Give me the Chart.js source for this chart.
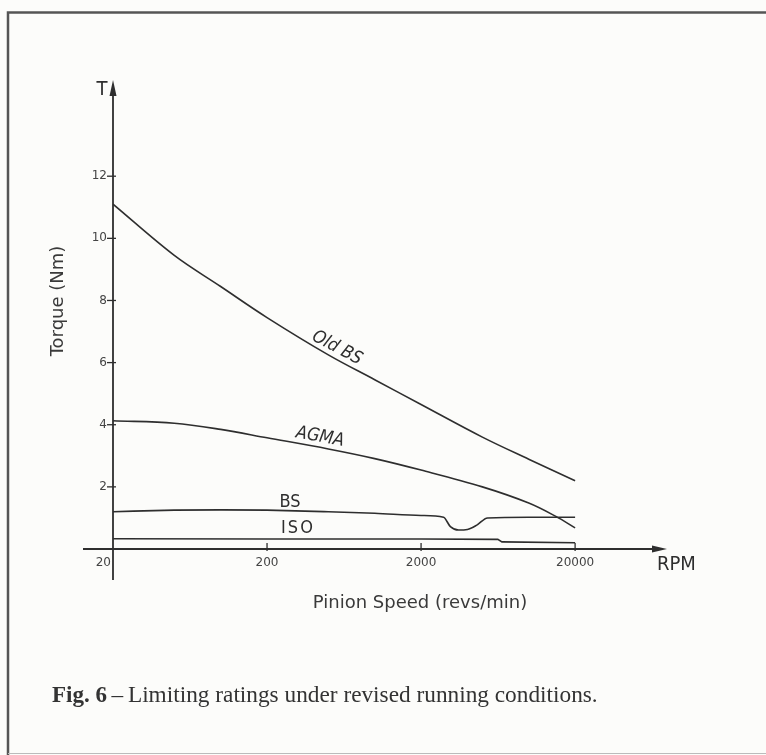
<!DOCTYPE html>
<html>
<head>
<meta charset="utf-8">
<script src="https://cdn.jsdelivr.net/npm/chart.js@4.4.1/dist/chart.umd.min.js"></script>
<style>
  html, body { margin: 0; padding: 0; background: #fcfcfa; }
  #wrap { width: 766px; height: 755px; }
</style>
</head>
<body>
<div id="wrap"><canvas id="c" width="766" height="755"></canvas></div>
<script>
// ---- data ----
const xTickValues = [20, 200, 2000, 20000];
const xTickLabels = ["20", "200", "2000", "20000"];
const yTickValues = [2, 4, 6, 8, 10, 12];
const yTickLabels = ["2", "4", "6", "8", "10", "12"];

const oldBsRpm    = [20, 50, 100, 200, 500, 1000, 2000, 5000, 10000, 20000];
const oldBsTorque = [11.1, 9.45, 8.45, 7.45, 6.25, 5.45, 4.65, 3.6, 2.89, 2.2];

const agmaRpm    = [20, 50, 100, 200, 500, 1000, 2000, 5000, 10000, 15000, 20000];
const agmaTorque = [4.13, 4.05, 3.85, 3.58, 3.22, 2.91, 2.54, 2.0, 1.48, 1.05, 0.68];

const bsRpm    = [20, 50, 100, 200, 500, 1000, 2000, 2800, 3100, 3500, 4000, 4600, 5400, 10000, 20000];
const bsTorque = [1.2, 1.25, 1.26, 1.25, 1.2, 1.15, 1.08, 1.02, 0.72, 0.61, 0.63, 0.77, 1.0, 1.02, 1.02];

const isoRpm    = [20, 200, 2000, 6300, 6700, 20000];
const isoTorque = [0.33, 0.32, 0.32, 0.31, 0.23, 0.2];

const seriesNames = ["Old BS", "AGMA", "BS", "ISO"];

const toPts = (xs, ys) => xs.map((x, i) => ({ x: x, y: ys[i] }));

const INK = '#2e2e2e';
const FONT = '"DejaVu Sans", sans-serif';
const FONTC = '"DejaVu Sans Condensed", "DejaVu Sans", sans-serif';

const decor = {
  id: 'decor',
  beforeDraw(chart) {
    const ctx = chart.ctx;
    ctx.save();
    ctx.fillStyle = '#fcfcfa';
    ctx.fillRect(0, 0, chart.width, chart.height);
    ctx.restore();
  },
  afterDraw(chart) {
    const ctx = chart.ctx;
    const xs = chart.scales.x, ys = chart.scales.y;
    const x0 = xs.getPixelForValue(20);
    const y0 = ys.getPixelForValue(0);
    const xEnd = xs.right, yTop = ys.top;
    ctx.save();

    // frame
    ctx.strokeStyle = '#555';
    ctx.lineWidth = 2.5;
    ctx.beginPath();
    ctx.moveTo(8, 755); ctx.lineTo(8, 12.5); ctx.lineTo(766, 12.5);
    ctx.stroke();
    ctx.lineWidth = 1;
    ctx.strokeStyle = '#bbb';
    ctx.beginPath(); ctx.moveTo(8, 753.5); ctx.lineTo(766, 753.5); ctx.stroke();

    // axes
    ctx.strokeStyle = INK;
    ctx.fillStyle = INK;
    ctx.lineWidth = 1.8;
    ctx.beginPath();
    ctx.moveTo(x0 - 30, y0); ctx.lineTo(xEnd - 8, y0);
    ctx.moveTo(x0, y0 + 31); ctx.lineTo(x0, yTop + 8);
    ctx.stroke();
    // arrow heads
    ctx.beginPath();
    ctx.moveTo(xEnd, y0); ctx.lineTo(xEnd - 15, y0 - 3.5); ctx.lineTo(xEnd - 15, y0 + 3.5); ctx.closePath();
    ctx.fill();
    ctx.beginPath();
    ctx.moveTo(x0, yTop - 3); ctx.lineTo(x0 - 3.5, yTop + 13); ctx.lineTo(x0 + 3.5, yTop + 13); ctx.closePath();
    ctx.fill();

    // x ticks
    ctx.lineWidth = 1.3;
    ctx.font = '12px ' + FONT;
    ctx.fillStyle = '#444';
    ctx.textBaseline = 'middle';
    xTickValues.forEach((v, i) => {
      const px = xs.getPixelForValue(v);
      if (i > 0) {
        ctx.beginPath(); ctx.moveTo(px, y0 - 6); ctx.lineTo(px, y0 + 2); ctx.stroke();
        ctx.textAlign = 'center';
        ctx.fillText(xTickLabels[i], px, y0 + 14);
      } else {
        ctx.textAlign = 'right';
        ctx.fillText(xTickLabels[i], px - 2, y0 + 14);
      }
    });
    // y ticks
    yTickValues.forEach((v, i) => {
      const py = ys.getPixelForValue(v);
      ctx.beginPath(); ctx.moveTo(x0 - 6, py); ctx.lineTo(x0 + 3, py); ctx.stroke();
      ctx.textAlign = 'right';
      ctx.fillText(yTickLabels[i], x0 - 6, py);
    });

    // axis titles
    ctx.fillStyle = INK;
    ctx.font = '20px ' + FONTC;
    ctx.textAlign = 'center';
    ctx.fillText('T', x0 - 11, yTop + 7);
    ctx.textAlign = 'left';
    ctx.fillText('RPM', xEnd - 10, y0 + 16);
    ctx.font = '18px ' + FONT;
    ctx.textAlign = 'center';
    ctx.fillStyle = '#3a3a3a';
    ctx.fillText('Pinion Speed (revs/min)', 420, 603);
    ctx.save();
    ctx.translate(58, 301);
    ctx.rotate(-Math.PI / 2);
    ctx.fillText('Torque (Nm)', 0, 0);
    ctx.restore();

    // curve labels
    ctx.fillStyle = INK;
    ctx.font = 'italic 18px ' + FONTC;
    const lab = (t, x, y, a) => {
      ctx.save(); ctx.translate(x, y); ctx.rotate(a * Math.PI / 180);
      ctx.fillText(t, 0, 0); ctx.restore();
    };
    lab(seriesNames[0], 337, 348, 28);
    lab(seriesNames[1], 320, 437, 10);
    ctx.font = '18px ' + FONTC;
    lab(seriesNames[2], 290, 502, 0);
    ctx.save();
    ctx.letterSpacing = '2px';
    lab(seriesNames[3], 298, 528, 0);
    ctx.restore();

    // caption
    ctx.fillStyle = '#333';
    ctx.textAlign = 'left';
    ctx.textBaseline = 'alphabetic';
    ctx.font = 'bold 23px "Liberation Serif", serif';
    const fig = 'Fig. 6';
    ctx.fillText(fig, 52, 702);
    let w = ctx.measureText(fig).width;
    ctx.font = '23.3px "Liberation Serif", serif';
    ctx.fillText('\u2009\u2013\u2009Limiting ratings under revised running conditions.', 52 + w, 702);

    ctx.restore();
  }
};

const lineStyle = {
  borderColor: INK,
  borderWidth: 1.6,
  pointRadius: 0,
  fill: false,
  tension: 0.35
};

new Chart(document.getElementById('c'), {
  type: 'line',
  data: {
    datasets: [
      Object.assign({ label: seriesNames[0], data: toPts(oldBsRpm, oldBsTorque) }, lineStyle),
      Object.assign({ label: seriesNames[1], data: toPts(agmaRpm, agmaTorque) }, lineStyle),
      Object.assign({ label: seriesNames[2], data: toPts(bsRpm, bsTorque) }, lineStyle, { cubicInterpolationMode: 'monotone' }),
      Object.assign({ label: seriesNames[3], data: toPts(isoRpm, isoTorque) }, lineStyle, { tension: 0 })
    ]
  },
  options: {
    responsive: false,
    animation: false,
    devicePixelRatio: 1,
    layout: { padding: { left: 113, right: 99, top: 83, bottom: 206 } },
    plugins: { legend: { display: false }, tooltip: { enabled: false }, title: { display: false } },
    scales: {
      x: { type: 'logarithmic', min: 20, max: 79000, display: false },
      y: { type: 'linear', min: 0, max: 15, display: false }
    }
  },
  plugins: [decor]
});
</script>
</body>
</html>
